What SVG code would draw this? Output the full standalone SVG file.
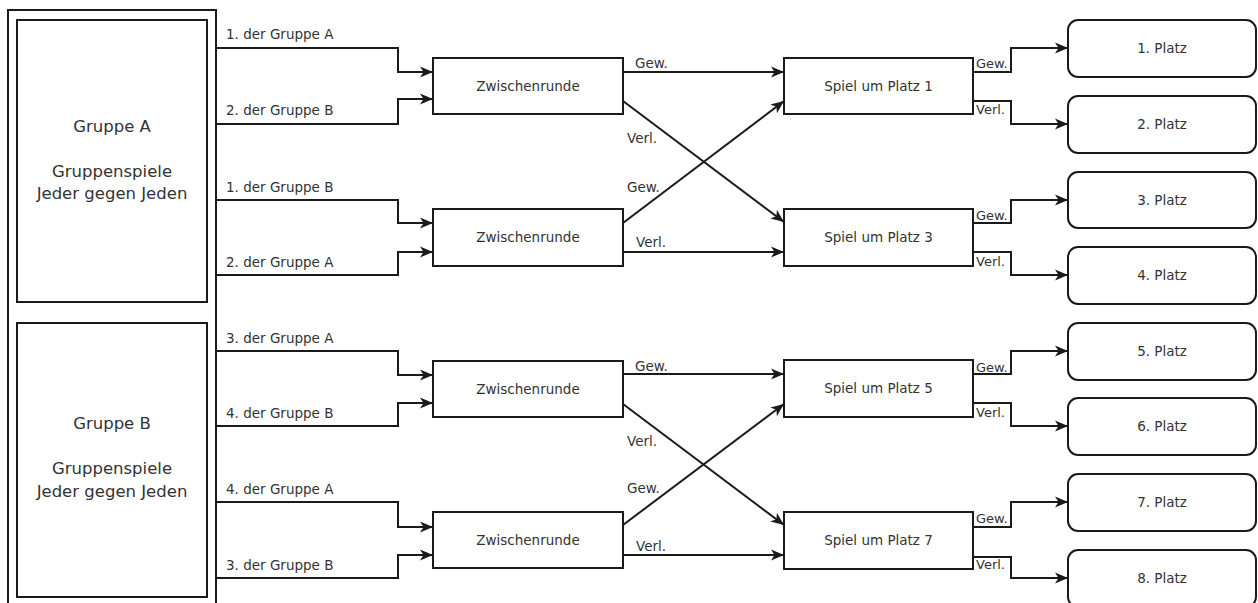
<svg xmlns="http://www.w3.org/2000/svg" width="1258" height="603" viewBox="0 0 1258 603">
<style>
.box{fill:#fff;stroke:#1a1a1a;stroke-width:2}
.t{font-family:"DejaVu Sans",Verdana,sans-serif;font-size:13.5px;fill:#333}
.c{text-anchor:middle}
.big{font-size:16.5px}
.sm{font-size:13px}
.ln{fill:none;stroke:#1a1a1a;stroke-width:2}
.ar{marker-end:url(#arr)}
</style>
<defs>
<marker id="arr" markerUnits="userSpaceOnUse" markerWidth="14" markerHeight="12" refX="13" refY="6" orient="auto">
<path d="M0,0.5 L13,6 L0,11.5 L3.5,6 z" fill="#1a1a1a"/>
</marker>
</defs>
<rect width="1258" height="603" fill="#fff"/>

<g id="outer"><rect class="box" x="8" y="10" width="208" height="600"/></g>

<g id="gruppeA">
<rect class="box" x="17" y="20" width="190" height="282"/>
<text class="t c big" x="112" y="132">Gruppe A</text>
<text class="t c big" x="112" y="177">Gruppenspiele</text>
<text class="t c big" x="112" y="199">Jeder gegen Jeden</text>
</g>
<g id="gruppeB">
<rect class="box" x="17" y="323" width="190" height="274"/>
<text class="t c big" x="112" y="429">Gruppe B</text>
<text class="t c big" x="112" y="474">Gruppenspiele</text>
<text class="t c big" x="112" y="497">Jeder gegen Jeden</text>
</g>

<g id="zw1"><rect class="box" x="433" y="58" width="190" height="56"/><text class="t c" x="528" y="91">Zwischenrunde</text></g>
<g id="zw2"><rect class="box" x="433" y="209" width="190" height="57"/><text class="t c" x="528" y="242">Zwischenrunde</text></g>
<g id="zw3"><rect class="box" x="433" y="361" width="190" height="56"/><text class="t c" x="528" y="394">Zwischenrunde</text></g>
<g id="zw4"><rect class="box" x="433" y="512" width="190" height="56"/><text class="t c" x="528" y="545">Zwischenrunde</text></g>

<g id="sp1"><rect class="box" x="784" y="58" width="189" height="56"/><text class="t c" x="878.5" y="91">Spiel um Platz 1</text></g>
<g id="sp3"><rect class="box" x="784" y="209" width="189" height="57"/><text class="t c" x="878.5" y="242">Spiel um Platz 3</text></g>
<g id="sp5"><rect class="box" x="784" y="360" width="189" height="57"/><text class="t c" x="878.5" y="393">Spiel um Platz 5</text></g>
<g id="sp7"><rect class="box" x="784" y="512" width="189" height="57"/><text class="t c" x="878.5" y="545">Spiel um Platz 7</text></g>

<g id="p1"><rect class="box" x="1068" y="20" width="188" height="57" rx="10"/><text class="t c" x="1162" y="53">1. Platz</text></g>
<g id="p2"><rect class="box" x="1068" y="96" width="188" height="57" rx="10"/><text class="t c" x="1162" y="129">2. Platz</text></g>
<g id="p3"><rect class="box" x="1068" y="172" width="188" height="56" rx="10"/><text class="t c" x="1162" y="205">3. Platz</text></g>
<g id="p4"><rect class="box" x="1068" y="247" width="188" height="57" rx="10"/><text class="t c" x="1162" y="280">4. Platz</text></g>
<g id="p5"><rect class="box" x="1068" y="323" width="188" height="57" rx="10"/><text class="t c" x="1162" y="356">5. Platz</text></g>
<g id="p6"><rect class="box" x="1068" y="398" width="188" height="57" rx="10"/><text class="t c" x="1162" y="431">6. Platz</text></g>
<g id="p7"><rect class="box" x="1068" y="474" width="188" height="57" rx="10"/><text class="t c" x="1162" y="507">7. Platz</text></g>
<g id="p8"><rect class="box" x="1068" y="550" width="188" height="57" rx="10"/><text class="t c" x="1162" y="583">8. Platz</text></g>

<g id="connectors">
<path class="ln ar" d="M216,48 H398 V72 H433"/>
<path class="ln ar" d="M216,124 H398 V99 H433"/>
<path class="ln ar" d="M216,200 H398 V223 H433"/>
<path class="ln ar" d="M216,275 H398 V252 H433"/>
<path class="ln ar" d="M216,351 H398 V375 H433"/>
<path class="ln ar" d="M216,426 H398 V403 H433"/>
<path class="ln ar" d="M216,502 H398 V527 H433"/>
<path class="ln ar" d="M216,578 H398 V555 H433"/>

<path class="ln ar" d="M623,72 H784"/>
<path class="ln ar" d="M623,101 L784,222"/>
<path class="ln ar" d="M623,223 L784,101"/>
<path class="ln ar" d="M623,252 H784"/>
<path class="ln ar" d="M623,374 H784"/>
<path class="ln ar" d="M623,404 L784,525"/>
<path class="ln ar" d="M623,525 L784,404"/>
<path class="ln ar" d="M623,555 H784"/>

<path class="ln ar" d="M973,72 H1011 V48 H1068"/>
<path class="ln ar" d="M973,101 H1011 V124 H1068"/>
<path class="ln ar" d="M973,223 H1011 V200 H1068"/>
<path class="ln ar" d="M973,252 H1011 V275 H1068"/>
<path class="ln ar" d="M973,374 H1011 V351 H1068"/>
<path class="ln ar" d="M973,403 H1011 V426 H1068"/>
<path class="ln ar" d="M973,527 H1011 V502 H1068"/>
<path class="ln ar" d="M973,557 H1011 V578 H1068"/>

<text class="t" x="226" y="39">1. der Gruppe A</text>
<text class="t" x="226" y="115">2. der Gruppe B</text>
<text class="t" x="226" y="192">1. der Gruppe B</text>
<text class="t" x="226" y="267">2. der Gruppe A</text>
<text class="t" x="226" y="343">3. der Gruppe A</text>
<text class="t" x="226" y="418">4. der Gruppe B</text>
<text class="t" x="226" y="494">4. der Gruppe A</text>
<text class="t" x="226" y="570">3. der Gruppe B</text>

<text class="t" x="635" y="68">Gew.</text>
<text class="t" x="627" y="143">Verl.</text>
<text class="t" x="627" y="192">Gew.</text>
<text class="t" x="636" y="247">Verl.</text>
<text class="t" x="635" y="371">Gew.</text>
<text class="t" x="627" y="446">Verl.</text>
<text class="t" x="627" y="493">Gew.</text>
<text class="t" x="636" y="551">Verl.</text>

<text class="t sm" x="976" y="68">Gew.</text>
<text class="t sm" x="976" y="114">Verl.</text>
<text class="t sm" x="976" y="220">Gew.</text>
<text class="t sm" x="976" y="266">Verl.</text>
<text class="t sm" x="976" y="372">Gew.</text>
<text class="t sm" x="976" y="417">Verl.</text>
<text class="t sm" x="976" y="523">Gew.</text>
<text class="t sm" x="976" y="569">Verl.</text>
</g>
</svg>
